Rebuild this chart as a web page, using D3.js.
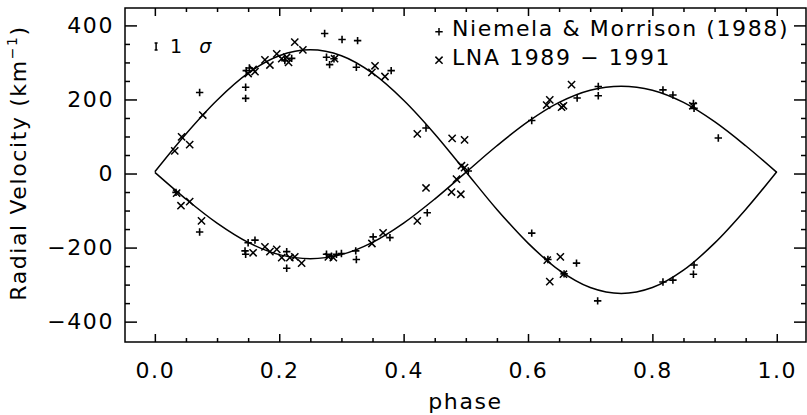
<!DOCTYPE html>
<html>
<head>
<meta charset="utf-8">
<script src="https://cdn.jsdelivr.net/npm/d3@7"></script>
<style>
  body { margin: 0; background: #fff; }
  svg { display: block; font-family: "DejaVu Sans", sans-serif; }
</style>
</head>
<body>
<svg id="chart"></svg>
<script>
// fitted orbit curves, every 0.05 in phase
const fitPhase = [0, 0.05, 0.1, 0.15, 0.2, 0.25, 0.3, 0.35, 0.4, 0.45, 0.5,
  0.55, 0.6, 0.65, 0.7, 0.75, 0.8, 0.85, 0.9, 0.95, 1.0]
const fitPrimary = [5, 107, 198, 271, 318, 334, 318, 271, 198, 107, 5,
  -97, -188, -261, -308, -324, -308, -261, -188, -97, 5]
const fitSecondary = [3, -69, -134, -186, -219, -230, -219, -186, -134, -69, 3,
  75, 140, 192, 225, 236, 225, 192, 140, 75, 3]

// Niemela & Morrison (1988)  [phase, km/s]
const nm88 = [
  [0.034, -51], [0.072, 219], [0.072, -158], [0.146, 233], [0.146, 203],
  [0.147, 278], [0.152, 285], [0.150, -187], [0.161, -180], [0.145, -209],
  [0.146, -218], [0.209, 305], [0.220, 311], [0.212, -211], [0.212, -256],
  [0.273, 378], [0.301, 362], [0.326, 359], [0.276, 314], [0.281, 294],
  [0.288, 310], [0.324, 287], [0.380, 278], [0.276, -218], [0.284, -223],
  [0.292, -218], [0.300, -216], [0.323, -209], [0.324, -232], [0.351, -171],
  [0.378, -173], [0.436, 123], [0.438, -106], [0.504, 7], [0.606, 143],
  [0.606, -161], [0.679, 204], [0.713, 235], [0.713, 210], [0.817, 226],
  [0.833, 212], [0.866, 189], [0.867, 176], [0.906, 96], [0.632, -232],
  [0.678, -242], [0.658, -271], [0.712, -344], [0.817, -293], [0.833, -288],
  [0.867, -247], [0.866, -272]
]

// LNA 1989 - 1991
const lna = [
  [0.032, 61], [0.043, 99], [0.056, 78], [0.077, 158], [0.035, -53],
  [0.042, -87], [0.056, -76], [0.075, -128], [0.150, 270], [0.158, 281],
  [0.161, 275], [0.177, 307], [0.185, 293], [0.196, 323], [0.204, 310],
  [0.212, 314], [0.215, 300], [0.225, 355], [0.238, 334], [0.289, 310],
  [0.349, 273], [0.354, 291], [0.370, 262], [0.158, -214], [0.177, -198],
  [0.185, -211], [0.196, -205], [0.204, -227], [0.217, -227], [0.225, -225],
  [0.236, -242], [0.279, -225], [0.287, -227], [0.349, -189], [0.367, -160],
  [0.422, -128], [0.422, 107], [0.478, 95], [0.498, 91], [0.493, 21],
  [0.498, 16], [0.485, -15], [0.436, -39], [0.477, -50], [0.492, -56],
  [0.630, 185], [0.635, 199], [0.654, 179], [0.657, 183], [0.670, 240],
  [0.865, 183], [0.631, -234], [0.652, -225], [0.657, -272], [0.635, -292]
]

// 1 sigma error bar
const sigmaBar = { phase: 0.002, v: 343, err: 9.5 }

const xMajor = [0, 0.2, 0.4, 0.6, 0.8, 1.0]
const yMajor = [-400, -200, 0, 200, 400]
const legendLabels = ["Niemela & Morrison (1988)", "LNA 1989 \u2212 1991"]

const width = 807, height = 415
const margin = { top: 8, right: 1, bottom: 73, left: 125 }

const svg = d3.select("#chart")
  .attr("width", width)
  .attr("height", height)

const x = d3.scaleLinear()
  .domain([-0.048, 1.047])
  .range([margin.left, width - margin.right])

const y = d3.scaleLinear()
  .domain([-455, 447])
  .range([height - margin.bottom, margin.top])

const fs = 22
const ls = 1.6
const sw = 1.5

// frame
svg.append("rect")
  .attr("x", x.range()[0])
  .attr("y", y.range()[1])
  .attr("width", x.range()[1] - x.range()[0])
  .attr("height", y.range()[0] - y.range()[1])
  .attr("fill", "none")
  .attr("stroke", "#000")
  .attr("stroke-width", sw)

const xMinor = x.ticks(20).filter(d => !xMajor.some(m => Math.abs(m - d) < 1e-6))
const yMinor = y.ticks(18).filter(d => d >= -400 && d <= 400 && !yMajor.includes(d))

const fmtX = d3.format(".1f")
const fmtY = d => d < 0 ? "\u2212" + Math.abs(d) : String(d)

function styleAxis(g) {
  g.select(".domain").remove()
  g.selectAll("line").attr("stroke", "#000").attr("stroke-width", sw)
  g.selectAll("text")
    .attr("fill", "#000")
    .attr("font-size", fs)
    .attr("font-family", "DejaVu Sans, sans-serif")
    .style("letter-spacing", ls + "px")
}

const yb = y.range()[0], yt = y.range()[1]
const xl = x.range()[0], xr = x.range()[1]

// bottom
svg.append("g").attr("transform", `translate(0,${yb})`)
  .call(d3.axisBottom(x).tickValues(xMajor).tickSize(-8).tickPadding(20).tickFormat(fmtX))
  .call(styleAxis)
svg.append("g").attr("transform", `translate(0,${yb})`)
  .call(d3.axisBottom(x).tickValues(xMinor).tickSize(-4).tickFormat(""))
  .call(styleAxis)
// top
svg.append("g").attr("transform", `translate(0,${yt})`)
  .call(d3.axisTop(x).tickValues(xMajor).tickSize(-8).tickFormat(""))
  .call(styleAxis)
svg.append("g").attr("transform", `translate(0,${yt})`)
  .call(d3.axisTop(x).tickValues(xMinor).tickSize(-4).tickFormat(""))
  .call(styleAxis)
// left
svg.append("g").attr("transform", `translate(${xl},0)`)
  .call(d3.axisLeft(y).tickValues(yMajor).tickSize(-12).tickPadding(11).tickFormat(fmtY))
  .call(styleAxis)
svg.append("g").attr("transform", `translate(${xl},0)`)
  .call(d3.axisLeft(y).tickValues(yMinor).tickSize(-5).tickFormat(""))
  .call(styleAxis)
// right
svg.append("g").attr("transform", `translate(${xr},0)`)
  .call(d3.axisRight(y).tickValues(yMajor).tickSize(-12).tickFormat(""))
  .call(styleAxis)
svg.append("g").attr("transform", `translate(${xr},0)`)
  .call(d3.axisRight(y).tickValues(yMinor).tickSize(-5).tickFormat(""))
  .call(styleAxis)

// axis titles
svg.append("text")
  .attr("x", (xl + xr) / 2)
  .attr("y", 409)
  .attr("text-anchor", "middle")
  .attr("font-size", fs)
  .style("letter-spacing", ls + "px")
  .text("phase")

const yTitle = svg.append("text")
  .attr("transform", `translate(26,${(yt + yb) / 2 - 12}) rotate(-90)`)
  .attr("text-anchor", "middle")
  .attr("font-size", fs)
  .style("letter-spacing", ls + "px")
yTitle.append("tspan").text("Radial Velocity (km")
yTitle.append("tspan").attr("font-size", 14).attr("dy", -9).text("\u22121")
yTitle.append("tspan").attr("dy", 9).text(")")

// fitted curves
const line = d3.line()
  .x((d, i) => x(fitPhase[i]))
  .y(d => y(d))
  .curve(d3.curveCatmullRom.alpha(0.5))

;[fitPrimary, fitSecondary].forEach(s => {
  svg.append("path")
    .attr("d", line(s))
    .attr("fill", "none")
    .attr("stroke", "#000")
    .attr("stroke-width", sw)
})

// markers
const plusPath = "M-3.7,0H3.7M0,-3.7V3.7"
const crossPath = "M-3.6,-3.6L3.6,3.6M-3.6,3.6L3.6,-3.6"

svg.append("g").selectAll("path")
  .data(nm88)
  .join("path")
  .attr("transform", d => `translate(${x(d[0])},${y(d[1])})`)
  .attr("d", plusPath)
  .attr("stroke", "#000")
  .attr("stroke-width", 1.6)
  .attr("fill", "none")

svg.append("g").selectAll("path")
  .data(lna)
  .join("path")
  .attr("transform", d => `translate(${x(d[0])},${y(d[1])})`)
  .attr("d", crossPath)
  .attr("stroke", "#000")
  .attr("stroke-width", 1.5)
  .attr("fill", "none")

// 1 sigma bar
const sx = x(sigmaBar.phase)
const sTop = y(sigmaBar.v + sigmaBar.err), sBot = y(sigmaBar.v - sigmaBar.err)
svg.append("path")
  .attr("d", `M${sx},${sTop}V${sBot}M${sx - 1.5},${sTop}H${sx + 1.5}M${sx - 1.5},${sBot}H${sx + 1.5}`)
  .attr("stroke", "#000")
  .attr("stroke-width", 1.5)
  .attr("fill", "none")

const sLabel = svg.append("text")
  .attr("x", sx + 14)
  .attr("y", sBot + 3)
  .attr("font-size", 19)
sLabel.append("tspan").text("1")
sLabel.append("tspan").attr("dx", 17).attr("font-style", "italic").text("\u03c3")

// legend
const legend = svg.append("g")
const legendMarks = [plusPath, crossPath]
legendLabels.forEach((lab, i) => {
  legend.append("path")
    .attr("transform", `translate(439,${31.7 + i * 28.5})`)
    .attr("d", legendMarks[i])
    .attr("stroke", "#000")
    .attr("stroke-width", 1.5)
    .attr("fill", "none")
  legend.append("text")
    .attr("x", 452)
    .attr("y", 36 + i * 29)
    .attr("font-size", fs)
    .style("letter-spacing", ls + "px")
    .text(lab)
})
</script>
</body>
</html>
